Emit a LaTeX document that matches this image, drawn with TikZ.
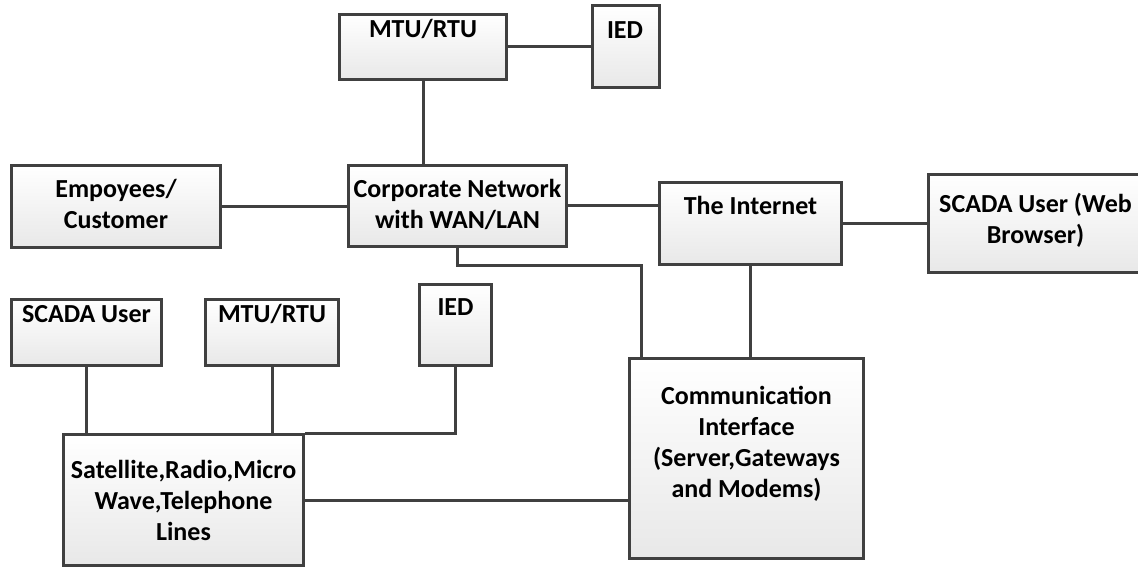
\documentclass[tikz,border=0pt]{standalone}
\usepackage{fontspec}
\setmainfont{Carlito}[BoldFont={Carlito Bold}]
\usetikzlibrary{shadows}
\definecolor{edge}{HTML}{404040}
\tikzset{
  box/.style={draw=edge, line width=3pt, rectangle, top color=white, bottom color=black!9,
    drop shadow={shadow xshift=1.5pt, shadow yshift=-1.5pt, opacity=0.25}, inner sep=0pt},
  lbl/.style={anchor=base, align=center, inner sep=0pt, text=black,
    font=\fontsize{26}{31}\selectfont\bfseries},
  wire/.style={draw=edge, line width=3pt}
}
\begin{document}
\begin{tikzpicture}[x=1pt, y=-1pt]
\clip (0,0) rectangle (1138,569);
% boxes
\node[box, minimum width=167pt, minimum height=65pt] (mtu1) at (423,47) {};
\node[box, minimum width=67pt, minimum height=82pt] (ied1) at (626,46.5) {};
\node[box, minimum width=209pt, minimum height=82pt] (emp) at (116,206.5) {};
\node[box, minimum width=218pt, minimum height=81pt] (corp) at (457.5,206) {};
\node[box, minimum width=182pt, minimum height=82pt] (inet) at (750.5,223.5) {};
\node[box, minimum width=213pt, minimum height=98pt] (web) at (1035,223.5) {};
\node[box, minimum width=150pt, minimum height=66pt] (scada) at (86.5,332.5) {};
\node[box, minimum width=133pt, minimum height=66pt] (mtu2) at (272,332.5) {};
\node[box, minimum width=72pt, minimum height=81pt] (ied2) at (455.5,325) {};
\node[box, minimum width=240pt, minimum height=131pt] (sat) at (183.5,500) {};
\node[box, minimum width=234pt, minimum height=200pt] (comm) at (746.5,458.5) {};
% texts (anchor=base is the baseline of the last line)
\node[lbl] (tmtu1) at (423,38) {MTU/RTU};
\node[lbl] (tied1) at (625,39) {IED};
\node[lbl] (temp) at (116,229) {Empoyees/\\Customer};
\node[lbl] (tcorp) at (457.5,229) {Corporate Network\\with WAN/LAN};
\node[lbl] (tinet) at (750.5,215) {The Internet};
\node[lbl] (tweb) at (1035.5,244) {SCADA User (Web\\Browser)};
\node[lbl] (tscada) at (86.5,323) {SCADA User};
\node[lbl] (tmtu2) at (272,323) {MTU/RTU};
\node[lbl] (tied2) at (455.5,316) {IED};
\node[lbl] (tsat) at (183.5,540) {Satellite,Radio,Micro\\Wave,Telephone\\Lines};
\node[lbl] (tcomm) at (746.5,497) {Communication\\Interface\\(Server,Gateways\\and Modems)};
% connectors
\draw[wire] (mtu1.east) -- (mtu1.east -| ied1.west);
\draw[wire] (mtu1.south) -- (mtu1.south |- corp.north);
\draw[wire] (emp.east) -- (emp.east -| corp.west);
\draw[wire] (corp.east) -- (corp.east -| inet.west);
\draw[wire] (inet.east) -- (inet.east -| web.west);
\draw[wire] (corp.south) -- ++(0,18) -| ([xshift=13pt]comm.north west);
\draw[wire] (inet.south) -- (inet.south |- comm.north);
\draw[wire] (scada.south) -- (scada.south |- sat.north);
\draw[wire] (mtu2.south) -- (mtu2.south |- sat.north);
\draw[wire] (ied2.south) |- (sat.north east);
\draw[wire] (sat.east) -- (sat.east -| comm.west);
\end{tikzpicture}
\end{document}
